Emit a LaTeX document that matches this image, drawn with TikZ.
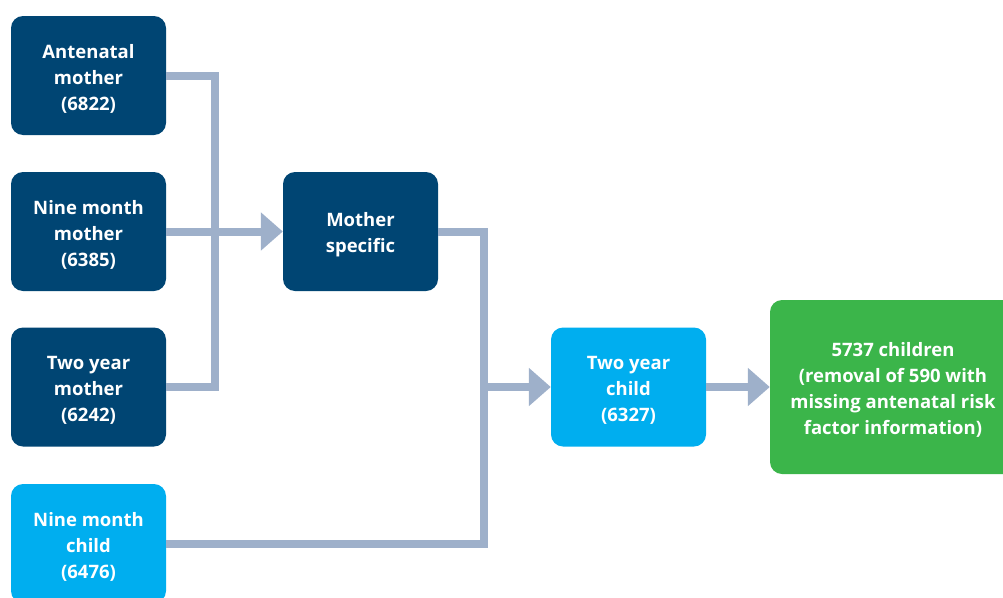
\documentclass[tikz,border=0pt]{standalone}
\usepackage{fontspec}
\setmainfont{Open Sans}
\usetikzlibrary{arrows.meta}
\definecolor{darkbox}{RGB}{0,69,115}
\definecolor{lightbox}{RGB}{0,174,239}
\definecolor{greenbox}{RGB}{59,181,74}
\definecolor{flow}{RGB}{158,176,202}
\tikzset{
  caption/.style={text=white, font=\bfseries\fontsize{18.5}{26}\selectfont,
    align=center, inner sep=0pt, yshift=-3pt},
  stage/.style={rounded corners=12pt, minimum width=155pt, minimum height=119pt,
    inner sep=0pt, label={[caption]center:{#1}}},
  mum/.style={stage={#1}, fill=darkbox},
  kid/.style={stage={#1}, fill=lightbox},
  final/.style={stage={#1}, fill=greenbox, minimum width=246pt, minimum height=174pt},
  link/.style={draw=flow, line width=8pt, line join=miter},
  flowarrow/.style={link, -{Triangle[width=37pt,length=22pt]}}
}
\begin{document}
\begin{tikzpicture}[x=1pt,y=-1pt]
\useasboundingbox (0,0) rectangle (1003,597);
\clip (0,0) rectangle (1003,597);
% source questionnaires
\node[mum={Antenatal\\mother\\(6822)}] (ante) at (88.5,75.5) {};
\node[mum={Nine month\\mother\\(6385)}] (nmm) at (88.5,231.5) {};
\node[mum={Two year\\mother\\(6242)}] (tym) at (88.5,387) {};
\node[kid={Nine month\\child\\(6476)}] (nmc) at (88.5,543.5) {};
% merged stages
\node[mum={Mother\\specific}] (ms) at (360.5,231.5) {};
\node[kid={Two year\\child\\(6327)}] (tyc) at (628.5,387) {};
\node[final={5737 children\\(removal of 590 with\\missing antenatal risk\\factor information)}] (out) at (893,387) {};
% junction columns
\coordinate (ja) at (214.5,0);
\coordinate (jb) at (484,0);
% mother branch
\draw[link] (ante.east) -- (ante.east -| ja) -- (tym.east -| ja) -- (tym.east);
\draw[flowarrow] (nmm.east) -- (ms.west);
% child branch
\draw[link] (ms.east) -- (ms.east -| jb) -- (nmc.east -| jb) -- (nmc.east);
\coordinate (jt) at (tyc.west -| jb);
\draw[flowarrow] (jt) -- (tyc.west);
\draw[flowarrow] (tyc.east) -- (out.west);
\end{tikzpicture}
\end{document}
